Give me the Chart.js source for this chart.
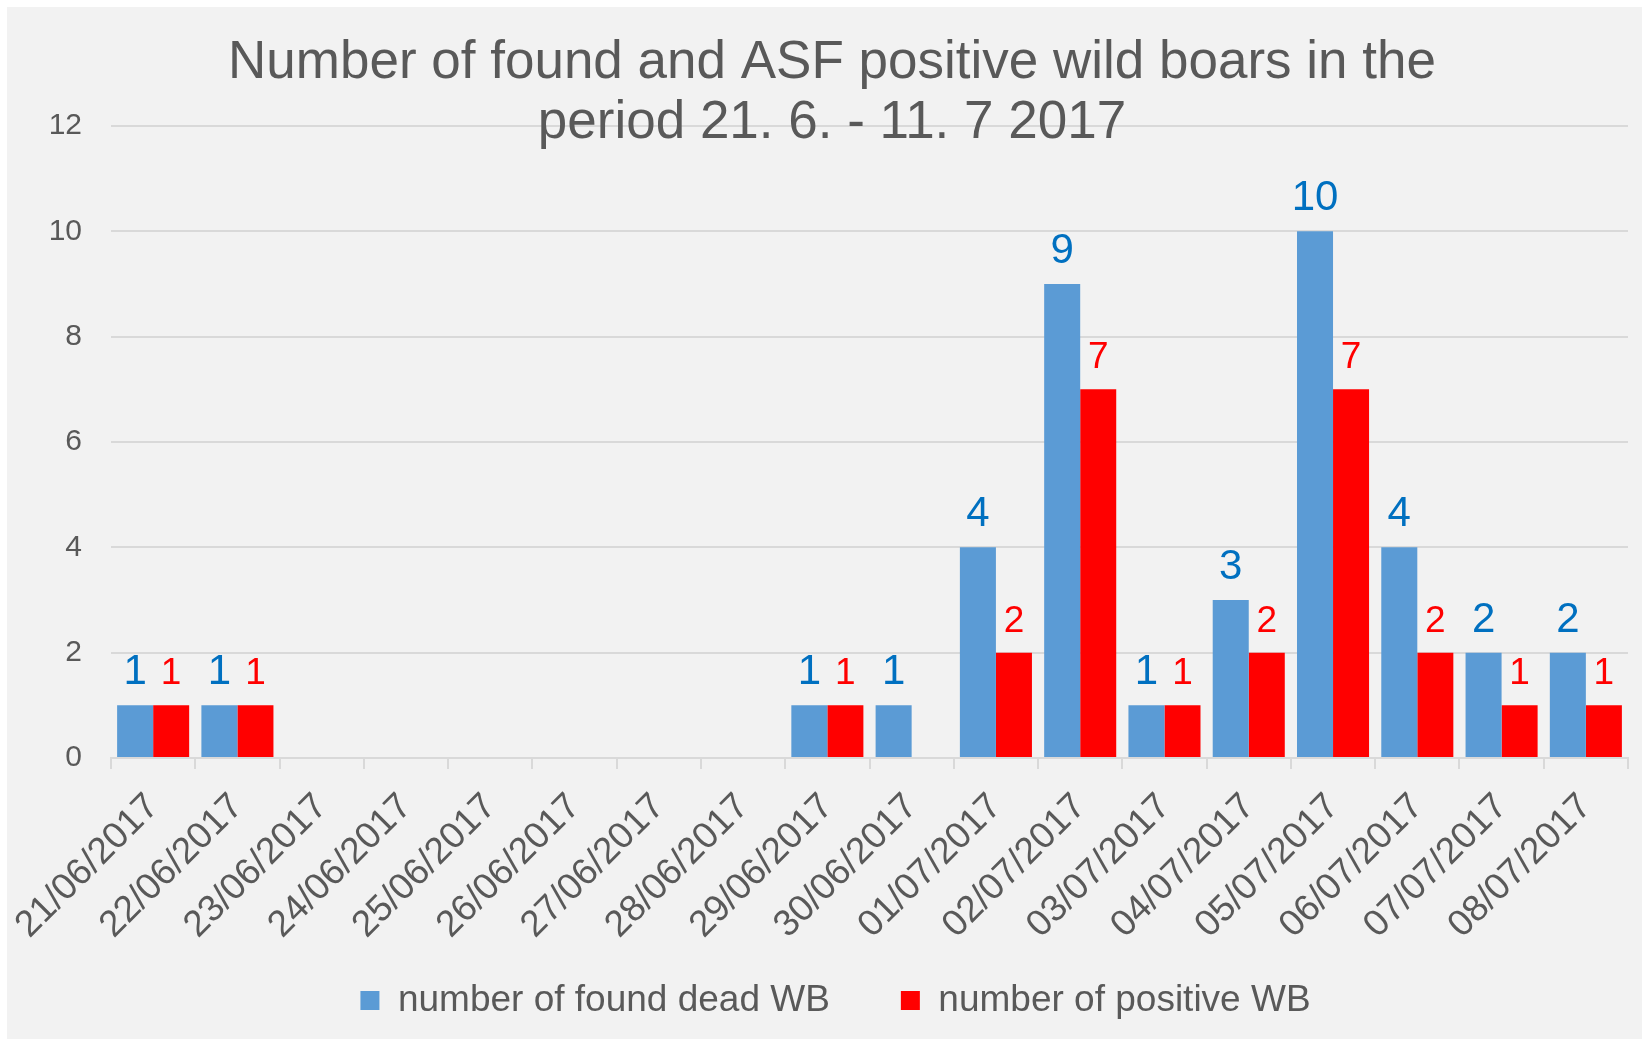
<!DOCTYPE html>
<html lang="en">
<head>
    <meta charset="UTF-8">
    <title>Found and ASF positive wild boars</title>
    <script src="https://cdn.jsdelivr.net/npm/chart.js"></script>
    <style>
        body { margin: 0; background: #ffffff; }
        .chart-box {
            position: absolute;
            left: 7px;
            top: 7px;
            width: 1635px;
            height: 1032px;
            background: #f2f2f2;
        }
    </style>
</head>
<body>

    <div class="chart-box">
        <canvas id="boarChart"></canvas>
    </div>

    <script>
        // Chart data
        const days = ['21/06/2017', '22/06/2017', '23/06/2017', '24/06/2017', '25/06/2017', '26/06/2017',
                      '27/06/2017', '28/06/2017', '29/06/2017', '30/06/2017', '01/07/2017', '02/07/2017',
                      '03/07/2017', '04/07/2017', '05/07/2017', '06/07/2017', '07/07/2017', '08/07/2017'];
        const foundDead = [1, 1, null, null, null, null, null, null, 1, 1, 4, 9, 1, 3, 10, 4, 2, 2];
        const positive  = [1, 1, null, null, null, null, null, null, 1, null, 2, 7, 1, 2, 7, 2, 1, 1];
        const yTicks = [0, 2, 4, 6, 8, 10, 12];
        const titleLines = ['Number of found and ASF positive wild boars in the', 'period 21. 6. - 11. 7 2017'];

        const FONT = '"Liberation Sans", Arial, sans-serif';
        const GREY = '#595959';

        // title sits over the plot area like in the excel export
        const titlePlugin = {
            id: 'overlayTitle',
            afterDraw(chart) {
                const ctx = chart.ctx;
                ctx.save();
                ctx.font = '53px ' + FONT;
                ctx.fillStyle = GREY;
                ctx.textAlign = 'center';
                ctx.textBaseline = 'alphabetic';
                ctx.fillText(titleLines[0], 825, 71);
                ctx.fillText(titleLines[1], 825, 131);
                ctx.restore();
            }
        };

        // value labels above each bar
        const valueLabels = {
            id: 'valueLabels',
            afterDatasetsDraw(chart) {
                const ctx = chart.ctx;
                ctx.save();
                ctx.textAlign = 'center';
                ctx.textBaseline = 'alphabetic';
                chart.data.datasets.forEach((ds, i) => {
                    const meta = chart.getDatasetMeta(i);
                    ctx.font = ds.labelSize + 'px ' + FONT;
                    ctx.fillStyle = ds.labelColor;
                    meta.data.forEach((bar, j) => {
                        if (ds.data[j] == null) return;
                        ctx.fillText(ds.data[j], bar.x, bar.y - 21);
                    });
                });
                ctx.restore();
            }
        };

        new Chart(document.getElementById('boarChart').getContext('2d'), {
            type: 'bar',
            data: {
                labels: days,
                datasets: [{
                    label: 'number of found dead WB',
                    data: foundDead,
                    backgroundColor: '#5b9bd5',
                    labelColor: '#0070c0',
                    labelSize: 42,
                    categoryPercentage: 0.855,
                    barPercentage: 1
                }, {
                    label: 'number of positive WB',
                    data: positive,
                    backgroundColor: '#ff0000',
                    labelColor: '#ff0000',
                    labelSize: 37,
                    categoryPercentage: 0.855,
                    barPercentage: 1
                }]
            },
            options: {
                responsive: true,
                maintainAspectRatio: false,
                animation: false,
                layout: { padding: { top: 119, left: 36, right: 14, bottom: 10 } },
                plugins: {
                    title: { display: false },
                    tooltip: { enabled: false },
                    legend: {
                        position: 'bottom',
                        labels: {
                            font: { family: FONT, size: 37 },
                            color: GREY,
                            boxWidth: 19,
                            boxHeight: 19,
                            padding: 71
                        }
                    }
                },
                scales: {
                    x: {
                        afterFit(scale) {
                            scale.height = 153;
                            // first/last dates may hang outside, keep plot edges fixed
                            scale.paddingLeft = 0;
                            scale.paddingRight = 0;
                        },
                        // the rotated dates run past the axis box, don't clip them
                        afterUpdate(scale) { scale._computeLabelArea = () => undefined; },
                        grid: {
                            offset: true,
                            drawOnChartArea: false,
                            drawTicks: true,
                            tickLength: 11,
                            color: '#d9d9d9',
                            lineWidth: 2
                        },
                        border: { color: '#d9d9d9', width: 2 },
                        ticks: {
                            autoSkip: false,
                            maxRotation: 45,
                            minRotation: 45,
                            padding: 16,
                            color: GREY,
                            font: { family: FONT, size: 37 }
                        }
                    },
                    y: {
                        min: 0,
                        max: 12,
                        afterFit(scale) { scale.width = 68; },
                        afterBuildTicks(scale) { scale.ticks = yTicks.map(v => ({ value: v })); },
                        grid: { color: '#d9d9d9', lineWidth: 2, drawTicks: false },
                        border: { display: false },
                        ticks: {
                            padding: 29,
                            color: GREY,
                            font: { family: FONT, size: 30 }
                        }
                    }
                }
            },
            plugins: [valueLabels, titlePlugin]
        });
    </script>

</body>
</html>
